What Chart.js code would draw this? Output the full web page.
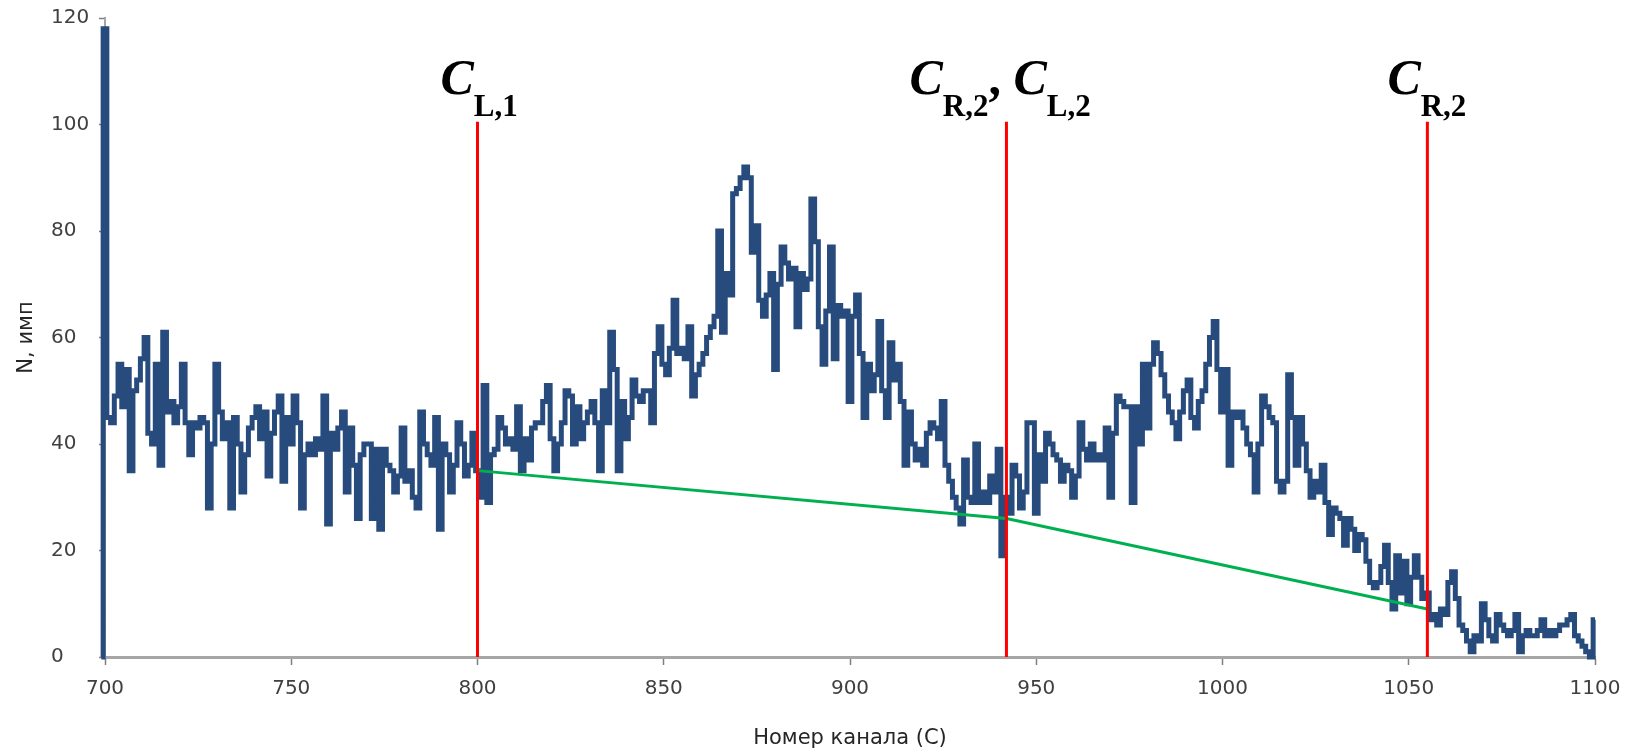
<!DOCTYPE html>
<html>
<head>
<meta charset="utf-8">
<title>Спектр</title>
<script src="https://cdn.jsdelivr.net/npm/chart.js@4.4.1/dist/chart.umd.min.js"></script>
<style>
html, body { margin: 0; padding: 0; background: #ffffff; }
#wrap { width: 1640px; height: 753px; }
</style>
</head>
<body>
<div id="wrap"><canvas id="spectrumChart" width="1640" height="753"></canvas></div>
<script>
// channel numbers start here, one count per channel
var firstChannel = 699;
var counts = [
	0,
	118, 45, 44, 49, 55, 47, 54, 35, 50, 52,   // 700
	56, 60, 42, 40, 55, 36, 61, 46, 48, 44,
	47, 55, 44, 38, 44, 43, 45, 44, 28, 40,
	55, 46, 41, 44, 28, 45, 40, 31, 38, 43,
	45, 47, 41, 46, 34, 42, 46, 49, 33, 45,
	40, 49, 44, 28, 38, 40, 38, 41, 39, 49,   // 750
	25, 42, 39, 43, 46, 31, 43, 36, 26, 38,
	40, 40, 26, 39, 24, 39, 36, 35, 31, 34,
	43, 33, 35, 30, 28, 46, 40, 38, 36, 45,
	24, 40, 38, 31, 36, 44, 40, 34, 36, 42,
	35, 30, 51, 29, 38, 39, 45, 43, 40, 41,   // 800
	39, 47, 35, 41, 37, 43, 44, 44, 48, 51,
	41, 35, 40, 44, 50, 49, 40, 47, 41, 44,
	46, 48, 44, 35, 50, 44, 61, 54, 35, 48,
	41, 45, 52, 49, 48, 50, 50, 44, 57, 62,
	55, 53, 58, 67, 57, 58, 56, 62, 49, 53,   // 850
	55, 57, 60, 62, 64, 80, 61, 72, 68, 87,
	88, 90, 92, 90, 76, 81, 67, 64, 68, 72,
	54, 70, 77, 74, 71, 73, 62, 72, 69, 71,
	86, 78, 62, 55, 65, 77, 56, 66, 64, 65,
	48, 64, 68, 57, 45, 55, 50, 53, 63, 50,   // 900
	45, 59, 52, 55, 48, 36, 46, 40, 37, 39,
	36, 42, 44, 43, 41, 48, 36, 33, 30, 28,
	25, 37, 30, 29, 40, 29, 31, 29, 34, 31,
	39, 19, 30, 27, 36, 34, 28, 31, 44, 44,
	27, 38, 33, 42, 40, 38, 37, 33, 36, 35,   // 950
	30, 34, 44, 39, 37, 40, 37, 38, 37, 43,
	30, 42, 49, 48, 47, 47, 29, 47, 40, 55,
	43, 55, 59, 57, 53, 49, 46, 44, 41, 46,
	50, 52, 45, 43, 48, 50, 55, 60, 63, 54,
	46, 54, 36, 46, 45, 46, 43, 40, 38, 31,   // 1000
	40, 49, 47, 45, 44, 33, 31, 33, 53, 45,
	36, 45, 40, 35, 30, 33, 31, 36, 29, 23,
	28, 27, 26, 21, 26, 24, 20, 23, 22, 18,
	14, 13, 14, 17, 21, 14, 9, 19, 12, 18,
	10, 15, 19, 15, 11, 12, 7, 8, 6, 9,       // 1050
	8, 14, 16, 11, 6, 5, 3, 1, 4, 3,
	10, 7, 4, 3, 8, 6, 5, 4, 5, 8,
	1, 4, 5, 4, 4, 5, 7, 4, 5, 4,
	5, 6, 6, 7, 8, 4, 3, 2, 1, 0,
	7                                         // 1100
];

// region borders and the straight background under the peaks
var markerChannels = [800, 942, 1055];
var markerTop = 100.5;
var baselineCounts = [35, 26, 9];
var markerLabels = [
	[['C', 'L,1']],
	[['C', 'R,2'], ['C', 'L,2']],
	[['C', 'R,2']]
];

var xTicks = [700, 750, 800, 850, 900, 950, 1000, 1050, 1100];
var yTicks = [0, 20, 40, 60, 80, 100, 120];
var xTitle = 'Номер канала (С)';
var yTitle = 'N, имп';

var textFont = '"DejaVu Sans", Verdana, sans-serif';
var serifFont = '"Liberation Serif", "Times New Roman", serif';

var spectrumPoints = counts.map(function(v, i) {
	return { x: firstChannel + i, y: v };
});
var baselinePoints = markerChannels.map(function(c, i) {
	return { x: c, y: baselineCounts[i] };
});

var datasets = markerChannels.map(function(c) {
	return {
		data: [{ x: c, y: 0 }, { x: c, y: markerTop }],
		borderColor: '#ff0000',
		borderWidth: 3,
		pointRadius: 0,
		order: 0
	};
});
datasets.push({
	data: baselinePoints,
	borderColor: '#00b050',
	borderWidth: 3,
	pointRadius: 0,
	order: 1
});
datasets.push({
	data: spectrumPoints,
	borderColor: '#274b7d',
	borderWidth: 5,
	stepped: 'middle',
	pointRadius: 0,
	clip: { left: 6, right: 6, top: 0, bottom: 6 },
	order: 2
});

var labelShift = [37, 97, 40];

var annotations = {
	id: 'annotations',
	afterDraw: function(chart) {
		var c = chart.ctx, xs = chart.scales.x, ys = chart.scales.y, area = chart.chartArea;
		c.save();
		c.fillStyle = '#262626';
		c.font = '21px ' + textFont;
		c.textAlign = 'center';
		c.textBaseline = 'middle';
		c.fillText(xTitle, (area.left + area.right) / 2, 739);
		c.save();
		c.translate(27, (area.top + area.bottom) / 2);
		c.rotate(-Math.PI / 2);
		c.fillText(yTitle, 0, 0);
		c.restore();

		// C labels above the red lines
		c.fillStyle = '#000000';
		c.textAlign = 'left';
		c.textBaseline = 'alphabetic';
		var top = ys.getPixelForValue(markerTop);
		var bigFont = 'italic bold 50px ' + serifFont;
		var subFont = 'bold 31px ' + serifFont;
		var sepFont = 'bold 50px ' + serifFont;
		markerLabels.forEach(function(groups, i) {
			var x = xs.getPixelForValue(markerChannels[i]) - labelShift[i];
			groups.forEach(function(g, j) {
				if (j > 0) {
					c.font = sepFont;
					c.fillText(', ', x, top - 28);
					x += c.measureText(', ').width;
				}
				c.font = bigFont;
				c.fillText(g[0], x, top - 28);
				x += c.measureText(g[0]).width;
				c.font = subFont;
				c.fillText(g[1], x, top - 6);
				x += c.measureText(g[1]).width;
			});
		});
		c.restore();
	}
};

var ctx = document.getElementById('spectrumChart');
var spectrumChart = new Chart(ctx, {
	type: 'line',
	data: { datasets: datasets },
	options: {
		responsive: false,
		animation: false,
		layout: { padding: { left: 51, top: 18, right: 45, bottom: 0 } },
		plugins: {
			legend: { display: false },
			tooltip: { enabled: false }
		},
		scales: {
			x: {
				type: 'linear',
				min: 700,
				max: 1100,
				afterBuildTicks: function(scale) {
					scale.ticks = xTicks.map(function(v) { return { value: v }; });
				},
				afterFit: function(scale) { scale.height = 96; },
				border: { display: true, color: '#a6a6a6', width: 3 },
				grid: { display: true, drawOnChartArea: false, drawTicks: true, tickLength: 8, tickColor: '#7f7f7f', tickWidth: 1.5 },
				ticks: {
					color: '#404040',
					font: { family: textFont, size: 20 },
					padding: 12,
					maxRotation: 0,
					callback: function(v) { return String(v); }
				}
			},
			y: {
				min: 0,
				max: 120,
				afterBuildTicks: function(scale) {
					scale.ticks = yTicks.map(function(v) { return { value: v }; });
				},
				afterFit: function(scale) { scale.width = 54; },
				border: { display: true, color: '#a6a6a6', width: 2 },
				grid: { display: true, drawOnChartArea: false, drawTicks: true, tickLength: 6, tickColor: '#7f7f7f', tickWidth: 1.5 },
				ticks: {
					color: '#404040',
					font: { family: textFont, size: 20 },
					crossAlign: 'far',
					padding: 4,
					callback: function(v) { return String(v); }
				}
			}
		}
	},
	plugins: [annotations]
});
</script>
</body>
</html>
